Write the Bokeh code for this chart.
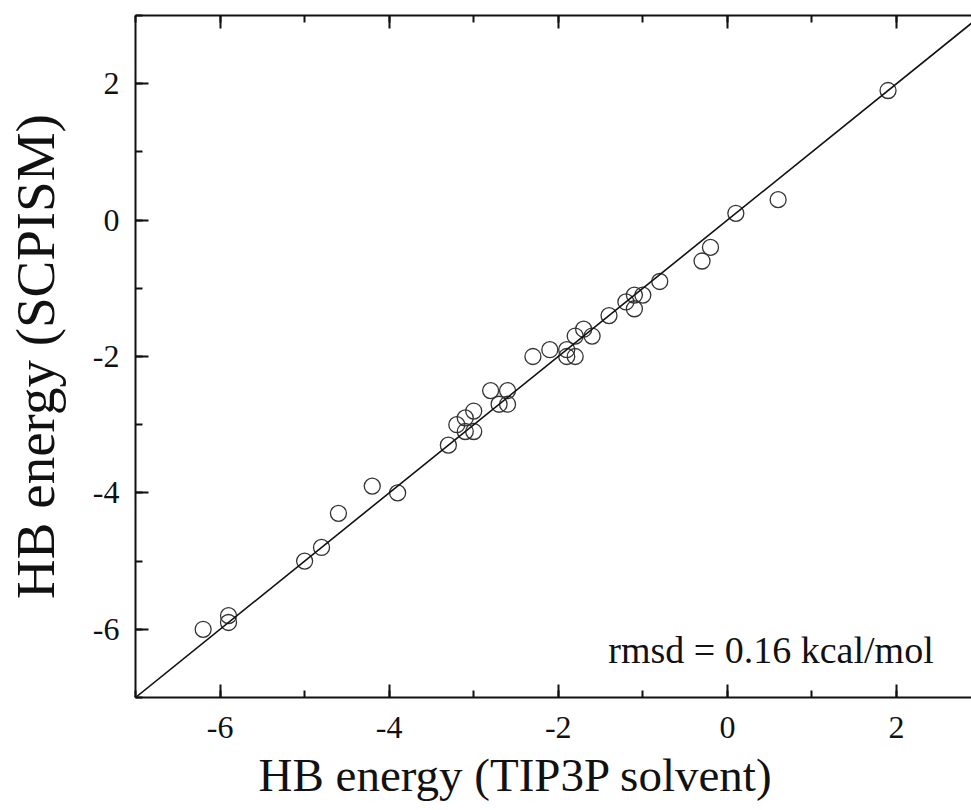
from bokeh.plotting import figure
from bokeh.models import (Range1d, LinearAxis, SingleIntervalTicker, Slope, Label,
                          Title, CustomJSTickFormatter)
from bokeh.embed import file_html
from bokeh.resources import INLINE

# HB energies
tip3p = [1.9, 0.6, 0.1, -0.2, -0.3, -0.8, -1.0, -1.1, -1.1, -1.2, -1.4, -1.6,
         -1.7, -1.8, -1.8, -1.9, -1.9, -2.1, -2.3, -2.6, -2.6, -2.7, -2.8,
         -3.0, -3.0, -3.1, -3.1, -3.2, -3.3, -3.9, -4.2, -4.6, -4.8, -5.0,
         -5.9, -5.9, -6.2]
scpism = [1.9, 0.3, 0.1, -0.4, -0.6, -0.9, -1.1, -1.1, -1.3, -1.2, -1.4, -1.7,
          -1.6, -1.7, -2.0, -1.9, -2.0, -1.9, -2.0, -2.5, -2.7, -2.7, -2.5,
          -2.8, -3.1, -3.1, -2.9, -3.0, -3.3, -4.0, -3.9, -4.3, -4.8, -5.0,
          -5.8, -5.9, -6.0]

x_label = "HB energy (TIP3P solvent)"
y_label = "HB energy (SCPISM)"
note = "rmsd = 0.16 kcal/mol"

FONT = "Liberation Serif"
INK = "#111111"

p = figure(width=971, height=810, output_backend="svg", toolbar_location=None,
           x_range=Range1d(-7, 2.887), y_range=Range1d(-7, 3),
           x_axis_location=None, y_axis_location=None,
           min_border_left=135, min_border_right=0, min_border_top=15,
           min_border_bottom=113)
p.outline_line_color = None
p.grid.visible = False
p.background_fill_color = "white"
p.border_fill_color = "white"

fmt = CustomJSTickFormatter(code="return tick.toFixed(0);")


def style_axis(ax, labels=True):
    ax.ticker = SingleIntervalTicker(interval=2, num_minor_ticks=2)
    ax.formatter = fmt
    ax.axis_line_width = 2
    ax.axis_line_color = INK
    ax.major_tick_line_width = 2
    ax.major_tick_line_color = INK
    ax.minor_tick_line_width = 2
    ax.minor_tick_line_color = INK
    ax.major_tick_in = 13
    ax.major_tick_out = 0
    ax.minor_tick_in = 7
    ax.minor_tick_out = 0
    ax.major_label_text_font = FONT
    ax.major_label_text_font_size = "32px"
    ax.major_label_text_color = INK
    if not labels:
        ax.major_label_text_font_size = "0px"
        ax.major_label_text_alpha = 0


xb = LinearAxis()
style_axis(xb)
xb.major_label_standoff = 19
p.add_layout(xb, "below")

yl = LinearAxis(axis_label=y_label)
style_axis(yl)
yl.major_label_standoff = 16
yl.axis_label_text_font = FONT
yl.axis_label_text_font_size = "55px"
yl.axis_label_text_font_style = "normal"
yl.axis_label_text_color = INK
yl.axis_label_standoff = 24
p.add_layout(yl, "left")

xt = LinearAxis()
style_axis(xt, labels=False)
p.add_layout(xt, "above")

p.add_layout(Slope(gradient=1, y_intercept=0, line_color=INK, line_width=1.6))

p.scatter(tip3p, scpism, marker="circle", size=16, fill_color=None,
          line_color="#333333", line_width=1.3)

p.add_layout(Label(x=2.44, y=-6.3, text=note, text_align="right",
                   text_baseline="alphabetic", text_font=FONT,
                   text_font_size="38px", text_color=INK))

p.add_layout(Title(text=x_label, align="left", offset=123, text_font=FONT,
                   text_font_size="47px", text_font_style="normal",
                   text_color=INK, standoff=12), "below")

open("out.html", "w").write(file_html(p, INLINE))
